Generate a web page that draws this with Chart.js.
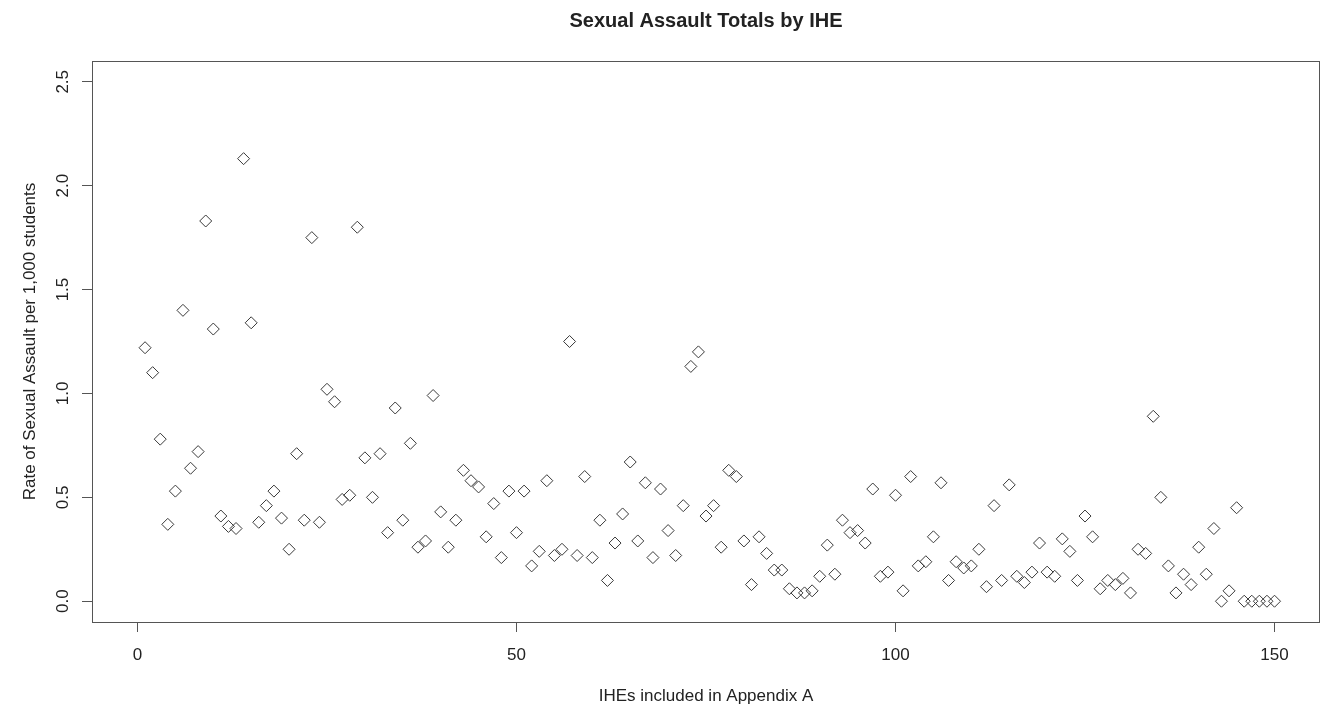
<!DOCTYPE html>
<html>
<head>
<meta charset="utf-8">
<script src="https://cdn.jsdelivr.net/npm/chart.js@4.4.1/dist/chart.umd.min.js"></script>
<style>
 body{margin:0;background:#fff;overflow:hidden;}
 #wrap{width:1323px;height:706px;position:relative;}
 #plot{display:block;}
</style>
</head>
<body>
<div id="wrap"><canvas id="plot"></canvas></div>
<script>
// rate of sexual assault per 1,000 students, IHE 1..150
const rates = [
 1.22,1.10,0.78,0.37,0.53,1.40,0.64,0.72,1.83,1.31,
 0.41,0.36,0.35,2.13,1.34,0.38,0.46,0.53,0.40,0.25,
 0.71,0.39,1.75,0.38,1.02,0.96,0.49,0.51,1.80,0.69,
 0.50,0.71,0.33,0.93,0.39,0.76,0.26,0.29,0.99,0.43,
 0.26,0.39,0.63,0.58,0.55,0.31,0.47,0.21,0.53,0.33,
 0.53,0.17,0.24,0.58,0.22,0.25,1.25,0.22,0.60,0.21,
 0.39,0.10,0.28,0.42,0.67,0.29,0.57,0.21,0.54,0.34,
 0.22,0.46,1.13,1.20,0.41,0.46,0.26,0.63,0.60,0.29,
 0.08,0.31,0.23,0.15,0.15,0.06,0.04,0.04,0.05,0.12,
 0.27,0.13,0.39,0.33,0.34,0.28,0.54,0.12,0.14,0.51,
 0.05,0.60,0.17,0.19,0.31,0.57,0.10,0.19,0.16,0.17,
 0.25,0.07,0.46,0.10,0.56,0.12,0.09,0.14,0.28,0.14,
 0.12,0.30,0.24,0.10,0.41,0.31,0.06,0.10,0.08,0.11,
 0.04,0.25,0.23,0.89,0.50,0.17,0.04,0.13,0.08,0.26,
 0.13,0.35,0.00,0.05,0.45,0.00,0.00,0.00,0.00,0.00
];
const xTicks = [0, 50, 100, 150];
const yTicks = [0, 0.5, 1, 1.5, 2, 2.5];
const yTickLabels = ['0.0','0.5','1.0','1.5','2.0','2.5'];

const titleText = 'Sexual Assault Totals by IHE';
const xTitle = 'IHEs included in Appendix A';
const yTitle = 'Rate of Sexual Assault per 1,000 students';

const FONT = '"Liberation Sans", Arial, Helvetica, sans-serif';
const INK = '#222';

const points = rates.map((v,i)=>({x:i+1, y:v}));

// base-R look: box, rotated y labels, titles
const rFrame = {
 id:'rFrame',
 beforeDraw(chart){
  const c = chart.ctx;
  c.save();
  c.fillStyle = '#fff';
  c.fillRect(0,0,chart.width,chart.height);
  c.restore();
 },
 afterDraw(chart){
  const c = chart.ctx;
  const a = chart.chartArea;
  const xs = chart.scales.x, ys = chart.scales.y;
  c.save();
  c.strokeStyle = '#555';
  c.lineWidth = 1;
  c.strokeRect(Math.round(a.left)+0.5, Math.round(a.top)+0.5,
   Math.round(a.right-a.left)-1, Math.round(a.bottom-a.top));

  c.fillStyle = INK;
  c.font = 'bold 20px ' + FONT;
  c.textAlign = 'center';
  c.textBaseline = 'alphabetic';
  c.fillText(titleText, (a.left+a.right)/2, 27);

  c.font = '17px ' + FONT;
  xTicks.forEach(v=>{
   c.fillText(String(v), xs.getPixelForValue(v), 660);
  });
  c.fillText(xTitle, (a.left+a.right)/2, 701);

  yTicks.forEach((v,i)=>{
   c.save();
   c.translate(68, ys.getPixelForValue(v));
   c.rotate(-Math.PI/2);
   c.fillText(yTickLabels[i], 0, 0);
   c.restore();
  });

  c.save();
  c.translate(35, (a.top+a.bottom)/2);
  c.rotate(-Math.PI/2);
  c.fillText(yTitle, 0, 0);
  c.restore();
  c.restore();
 }
};

new Chart(document.getElementById('plot'),{
 type:'scatter',
 data:{
  datasets:[{
   data:points,
   pointStyle:'rectRot',
   pointRadius:6,
   pointHoverRadius:6,
   borderWidth:1,
   borderColor:'#3a3a3a',
   backgroundColor:'rgba(0,0,0,0)'
  }]
 },
 options:{
  responsive:true,
  maintainAspectRatio:false,
  animation:false,
  events:[],
  layout:{autoPadding:false, padding:{top:61,right:3,left:0,bottom:0}},
  plugins:{legend:{display:false},tooltip:{enabled:false},title:{display:false}},
  scales:{
   x:{
    type:'linear',
    min:-6, max:156,
    afterBuildTicks:s=>{ s.ticks = xTicks.map(v=>({value:v})); },
    afterFit:s=>{ s.height = 84; },
    grid:{drawOnChartArea:false, drawTicks:true, tickLength:10, color:'#555', lineWidth:1},
    border:{display:false},
    ticks:{display:false}
   },
   y:{
    type:'linear',
    min:-0.1, max:2.6,
    afterBuildTicks:s=>{ s.ticks = yTicks.map(v=>({value:v})); },
    afterFit:s=>{ s.width = 92; },
    grid:{drawOnChartArea:false, drawTicks:true, tickLength:10, color:'#555', lineWidth:1},
    border:{display:false},
    ticks:{display:false}
   }
  }
 },
 plugins:[rFrame]
});
</script>
</body>
</html>
